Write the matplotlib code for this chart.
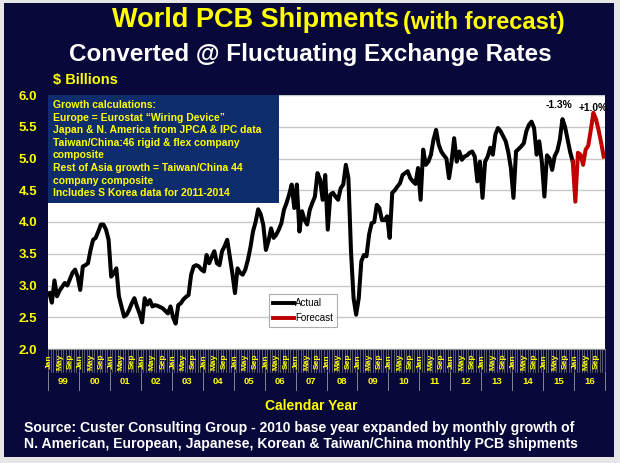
import numpy as np
import matplotlib
matplotlib.use("Agg")
import matplotlib.pyplot as plt
import matplotlib.transforms as mtransforms
from matplotlib.patches import Rectangle
from matplotlib.lines import Line2D

plt.rcParams["font.family"] = ["Liberation Sans", "DejaVu Sans"]

# ====================== DATA ($ billions, monthly) ======================

ship_1999 = [2.88, 2.73, 3.08, 2.83, 2.92, 2.98, 3.04, 3.00, 3.10, 3.20, 3.25, 3.14]
ship_2000 = [2.93, 3.30, 3.32, 3.35, 3.56, 3.72, 3.75, 3.85, 3.96, 3.96, 3.88, 3.72]
ship_2001 = [3.14, 3.19, 3.27, 2.83, 2.67, 2.51, 2.54, 2.62, 2.72, 2.80, 2.67, 2.56]
ship_2002 = [2.42, 2.80, 2.70, 2.77, 2.67, 2.69, 2.68, 2.66, 2.64, 2.60, 2.56, 2.67]
ship_2003 = [2.50, 2.40, 2.69, 2.72, 2.78, 2.82, 2.85, 3.17, 3.30, 3.32, 3.30, 3.25]
ship_2004 = [3.22, 3.48, 3.35, 3.45, 3.54, 3.35, 3.32, 3.54, 3.62, 3.72, 3.46, 3.19]
ship_2005 = [2.88, 3.27, 3.20, 3.17, 3.25, 3.40, 3.60, 3.85, 4.00, 4.20, 4.12, 3.95]
ship_2006 = [3.56, 3.70, 3.90, 3.75, 3.80, 3.88, 3.98, 4.19, 4.30, 4.43, 4.59, 4.22]
ship_2007 = [4.59, 3.85, 4.17, 4.03, 3.96, 4.19, 4.30, 4.40, 4.77, 4.67, 4.35, 4.74]
ship_2008 = [3.88, 4.43, 4.46, 4.40, 4.35, 4.53, 4.59, 4.90, 4.69, 3.54, 2.80, 2.54]
ship_2009 = [2.80, 3.38, 3.48, 3.46, 3.80, 3.98, 4.00, 4.27, 4.22, 4.03, 4.03, 4.09]
ship_2010 = [3.75, 4.46, 4.50, 4.56, 4.61, 4.74, 4.77, 4.80, 4.69, 4.64, 4.60, 4.85]
ship_2011 = [4.35, 5.14, 4.90, 4.95, 5.06, 5.30, 5.45, 5.22, 5.11, 5.05, 5.00, 4.69]
ship_2012 = [4.95, 5.32, 4.95, 5.11, 4.98, 5.03, 5.05, 5.09, 5.11, 5.03, 4.64, 4.95]
ship_2013 = [4.38, 4.95, 5.03, 5.17, 5.06, 5.38, 5.48, 5.43, 5.35, 5.27, 5.10, 4.85]
ship_2014 = [4.38, 5.11, 5.15, 5.19, 5.24, 5.43, 5.53, 5.58, 5.48, 5.06, 5.27, 4.95]
ship_2015 = [4.40, 5.05, 5.00, 4.82, 5.04, 5.12, 5.30, 5.62, 5.50, 5.30, 5.10, 4.95]

forecast_2016 = [4.32, 5.09, 5.06, 4.90, 5.14, 5.20, 5.45, 5.72, 5.62, 5.45, 5.25, 5.03]

year_labels = ["99", "00", "01", "02", "03", "04", "05", "06", "07", "08",
               "09", "10", "11", "12", "13", "14", "15", "16"]
month_labels = ["Jan", "May", "Sep"]
month_label_pos = [0, 4, 8]

box_lines = [
    "Growth calculations:",
    "Europe = Eurostat \u201cWiring Device\u201d",
    "Japan & N. America from JPCA & IPC data",
    "Taiwan/China:46 rigid & flex company",
    "composite",
    "Rest of Asia growth = Taiwan/China 44",
    "company composite",
    "Includes S Korea data for 2011-2014",
]

# ====================== PLOT ======================

NAVY = "#08083a"
YELLOW = "#ffff00"
BOX_BLUE = "#0f2d6c"

actual = np.array(ship_1999 + ship_2000 + ship_2001 + ship_2002 + ship_2003
                  + ship_2004 + ship_2005 + ship_2006 + ship_2007 + ship_2008
                  + ship_2009 + ship_2010 + ship_2011 + ship_2012 + ship_2013
                  + ship_2014 + ship_2015)
x_act = np.arange(len(actual)) + 0.5
fc = np.array([actual[-1]] + forecast_2016)
x_fc = np.arange(len(actual) - 1, len(actual) + len(forecast_2016)) + 0.5
n_months = len(actual) + len(forecast_2016)

W, H = 620, 463
fig = plt.figure(figsize=(6.2, 4.63), dpi=100, facecolor="#e6e6e6")

# navy panel behind everything
panel = Rectangle((4 / W, 1 - 457 / H), 610 / W, 454 / H,
                  transform=fig.transFigure, facecolor=NAVY,
                  edgecolor="none", zorder=-10)
fig.add_artist(panel)

ax = fig.add_axes([48 / W, 1 - 349 / H, 557 / W, 254 / H])
ax.set_zorder(1)
ax.set_facecolor("white")

ax.set_xlim(0, n_months)
ax.set_ylim(2.0, 6.0)
ax.set_yticks(np.arange(2.0, 6.01, 0.5))
ax.set_yticklabels([f"{v:.1f}" for v in np.arange(2.0, 6.01, 0.5)],
                   color=YELLOW, fontsize=9.5, fontweight="bold")
ax.tick_params(axis="y", length=0, pad=8)
ax.set_xticks([])
ax.grid(axis="y", color="#c8c8c8", linewidth=1.0)
ax.set_axisbelow(True)
for side in ["top", "right", "left"]:
    ax.spines[side].set_visible(False)
ax.spines["bottom"].set_color("#909090")

ax.plot(x_act, actual, color="black", linewidth=2.9, solid_joinstyle="round", zorder=3)
ax.plot(x_fc, fc, color="#c00000", linewidth=2.9, solid_joinstyle="round", zorder=3)

# info box
ax.add_patch(Rectangle((0, (349 - 203) / 254), (279 - 48) / 557, 1 - (349 - 203) / 254,
                       transform=ax.transAxes, facecolor=BOX_BLUE,
                       edgecolor="none", zorder=4))
for i, line in enumerate(box_lines):
    ax.text(5 / 557, 1 - (10 + i * 12.6) / 254, line, transform=ax.transAxes,
            color=YELLOW, fontsize=7.5, fontweight="bold", va="center", ha="left",
            zorder=5)

# growth annotations
ax.text(198.3, 5.85, "-1.3%", ha="center", va="center", fontsize=7.4,
        fontweight="bold", color="black", clip_on=False, zorder=5)
ax.text(211.6, 5.80, "+1.0%", ha="center", va="center", fontsize=7.4,
        fontweight="bold", color="black", clip_on=False, zorder=5)

# legend
handles = [Line2D([0], [0], color="black", linewidth=2.8, label="Actual"),
           Line2D([0], [0], color="#c00000", linewidth=2.8, label="Forecast")]
leg = ax.legend(handles=handles, loc="lower left",
                bbox_to_anchor=((269 - 48) / 557, (349 - 327) / 254),
                fontsize=7, frameon=True, fancybox=False, handlelength=2.2,
                handletextpad=0.1, borderpad=0.4, labelspacing=0.5,
                borderaxespad=0)
leg.get_frame().set_edgecolor("#999999")
leg.get_frame().set_linewidth(0.8)
leg.set_zorder(6)

# two-level category axis
trans = mtransforms.blended_transform_factory(ax.transData, ax.transAxes)


def ypos(py):
    return (349 - py) / 254


for m in range(n_months + 1):
    ax.plot([m, m], [ypos(349), ypos(372)], transform=trans, color="#7a7a7a",
            linewidth=0.5, clip_on=False)
for yi, lab in enumerate(year_labels):
    for pos, mlab in zip(month_label_pos, month_labels):
        ax.text(yi * 12 + pos + 0.5, ypos(361.5), mlab, transform=trans,
                rotation=90, ha="center", va="center", fontsize=6,
                fontweight="bold", color=YELLOW)
    ax.text(yi * 12 + 6, ypos(382), lab, transform=trans, ha="center",
            va="center", fontsize=6.8, fontweight="bold", color=YELLOW)
for yi in range(len(year_labels) + 1):
    ax.plot([yi * 12, yi * 12], [ypos(372), ypos(390)], transform=trans,
            color="#9a9a9a", linewidth=0.6, clip_on=False)

# titles and texts
fig.text(112 / W, 1 - 20 / H, "World PCB Shipments", color=YELLOW,
         fontsize=19.5, fontweight="bold", ha="left", va="center")
fig.text(403 / W, 1 - 22 / H, "(with forecast)", color=YELLOW,
         fontsize=17, fontweight="bold", ha="left", va="center")
fig.text(310 / W, 1 - 55 / H, "Converted @ Fluctuating Exchange Rates",
         color="white", fontsize=17.5, fontweight="bold", ha="center", va="center")
fig.text(53 / W, 1 - 80 / H, "$ Billions", color=YELLOW, fontsize=10.5,
         fontweight="bold", ha="left", va="center")
fig.text(311 / W, 1 - 406 / H, "Calendar Year", color=YELLOW, fontsize=10,
         fontweight="bold", ha="center", va="center")
fig.text(24 / W, 1 - 428 / H,
         "Source: Custer Consulting Group - 2010 base year expanded by monthly growth of",
         color="white", fontsize=10.1, fontweight="bold", ha="left", va="center")
fig.text(24 / W, 1 - 444 / H,
         "N. American, European, Japanese, Korean & Taiwan/China monthly PCB shipments",
         color="white", fontsize=10.1, fontweight="bold", ha="left", va="center")

fig.savefig("out.png", dpi=100, facecolor=fig.get_facecolor())
